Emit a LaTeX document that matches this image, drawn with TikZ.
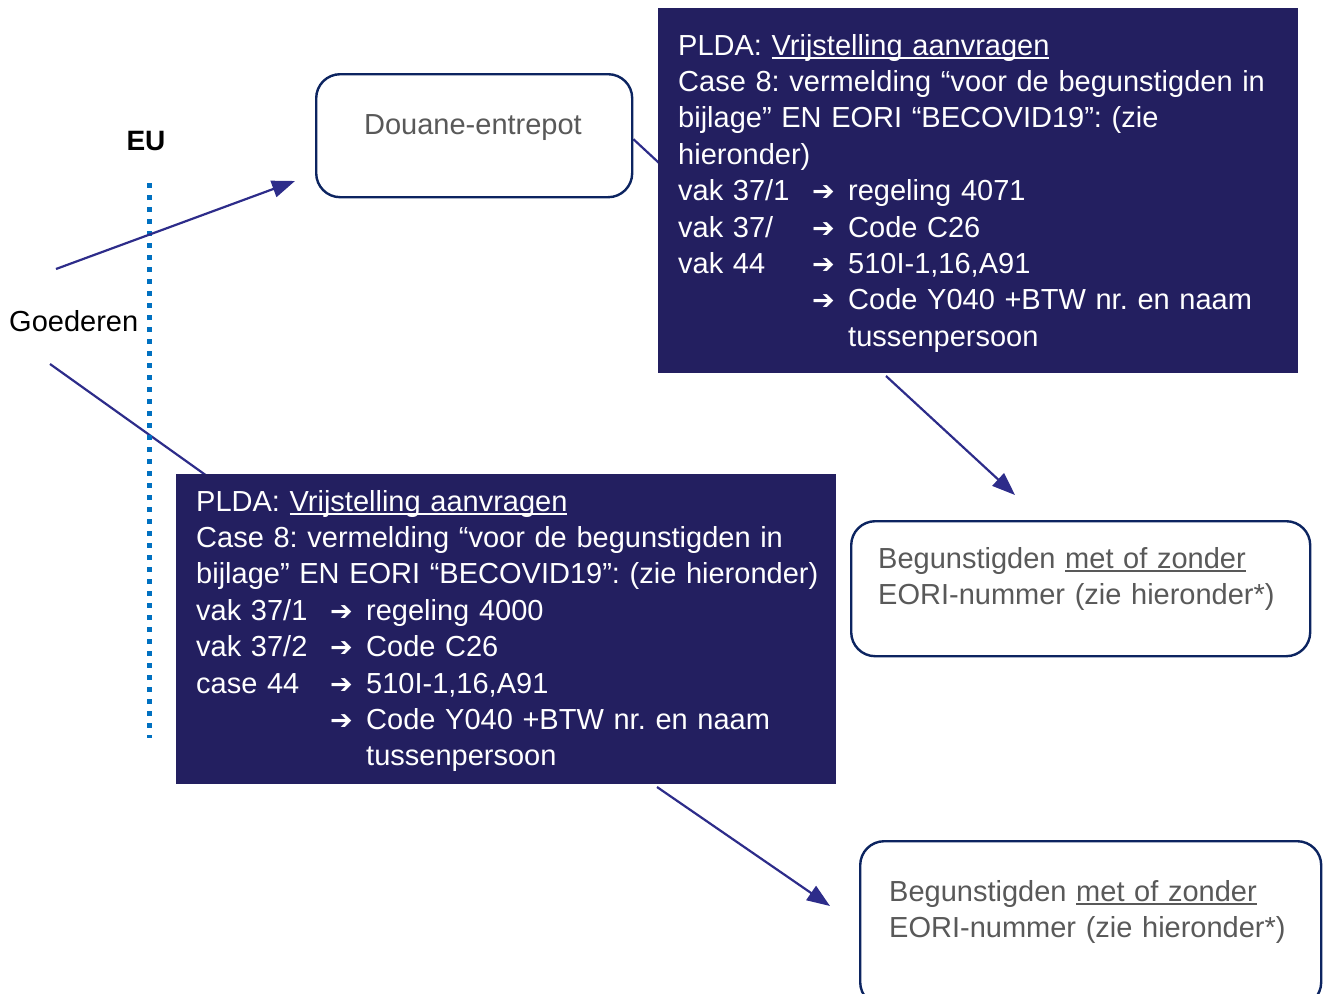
\documentclass[tikz,border=0pt]{standalone}
\usepackage{fontspec}
\setmainfont{Liberation Sans}
\newfontfamily\symfamily{DejaVu Sans}
\usetikzlibrary{arrows.meta,backgrounds}
\frenchspacing
\definecolor{plnavy}{RGB}{35,31,96}
\definecolor{arrowc}{RGB}{45,44,138}
\definecolor{rboxc}{RGB}{12,36,96}
\definecolor{graytxt}{RGB}{89,89,89}
\definecolor{dotblue}{RGB}{0,112,192}
\newcommand\myul[1]{\leavevmode\setbox0\hbox{#1}\rlap{\rule[-3.6pt]{\wd0}{1.8pt}}\box0}
\newcommand\myarr{{\symfamily\fontsize{27}{27}\selectfont ➔}}
\newcommand\plrow[3]{\makebox[134pt][l]{#1}\makebox[36pt][l]{#2}#3}
\tikzset{
  plbox/.style={fill=plnavy, draw=none, anchor=north west, inner sep=0pt},
  pltext/.style={text=white, anchor=base west, inner sep=0pt, text width=660pt, align=left,
    font=\fontsize{29}{36.4}\selectfont},
  rbox/.style={draw=rboxc, line width=2.4pt, rounded corners=24pt, fill=white, anchor=north west, inner sep=0pt},
  graytext/.style={text=graytxt, inner sep=0pt, font=\fontsize{29}{36.6}\selectfont},
  conn/.style={draw=arrowc, line width=2.2pt},
  arr/.style={conn, -{Triangle[length=23pt,width=17pt]}},
  eudots/.style={draw=dotblue, line width=5pt, dash pattern=on 5pt off 7pt},
}
\begin{document}
\begin{tikzpicture}[x=1pt,y=-1pt]
\useasboundingbox (0,0) rectangle (1327,993);
\clip (0,0) rectangle (1327,993);

% labels
\node[anchor=base, inner sep=0pt, font=\bfseries\fontsize{28}{28}\selectfont] (eu) at (146,150) {EU};
\node[anchor=base west, inner sep=0pt, font=\fontsize{29}{30}\selectfont] (goed) at (9,331) {Goederen};

% EU border
\coordinate (eutop) at (149,183);
\coordinate (eubot) at (149,738);
\draw[eudots] (eutop) -- (eubot);

% boxes
\node[rbox, minimum width=316pt, minimum height=123pt] (dou) at (315,73) {};
\node[graytext, anchor=base] (dout) at (473,134) {Douane-entrepot};

\node[plbox, minimum width=640pt, minimum height=365pt] (p1) at (658,8) {};
\node[pltext] (p1t) at (678,55) {PLDA: \myul{Vrijstelling aanvragen}\\
Case 8: vermelding “voor de begunstigden in\\
bijlage” EN EORI “BECOVID19”: (zie\\
hieronder)\\
\plrow{vak 37/1}{\myarr}{regeling 4071}\\
\plrow{vak 37/}{\myarr}{Code C26}\\
\plrow{vak 44}{\myarr}{510I-1,16,A91}\\
\plrow{}{\myarr}{Code Y040 +BTW nr. en naam}\\
\plrow{}{}{tussenpersoon}};

\node[plbox, minimum width=660pt, minimum height=310pt] (p2) at (176,474) {};
\node[pltext] (p2t) at (196,511) {PLDA: \myul{Vrijstelling aanvragen}\\
Case 8: vermelding “voor de begunstigden in\\
bijlage” EN EORI “BECOVID19”: (zie hieronder)\\
\plrow{vak 37/1}{\myarr}{regeling 4000}\\
\plrow{vak 37/2}{\myarr}{Code C26}\\
\plrow{case 44}{\myarr}{510I-1,16,A91}\\
\plrow{}{\myarr}{Code Y040 +BTW nr. en naam}\\
\plrow{}{}{tussenpersoon}};

\node[rbox, minimum width=459pt, minimum height=135pt] (b1) at (850,520) {};
\node[graytext, anchor=base west, text width=420pt, align=left] (b1t) at (878,568) {Begunstigden \myul{met of zonder}\\EORI-nummer (zie hieronder*)};

\node[rbox, minimum width=461pt, minimum height=165pt] (b2) at (859,840) {};
\node[graytext, anchor=base west, text width=420pt, align=left] (b2t) at (889,901) {Begunstigden \myul{met of zonder}\\EORI-nummer (zie hieronder*)};

% connectors
\coordinate (g1s) at (56,269);
\coordinate (g1e) at (295,181);
\coordinate (g2s) at (50,364);
\coordinate (g2e) at (207,476);
\coordinate (dp1) at (672,175);
\coordinate (p1s) at (886,376);
\coordinate (p1e) at (1015,495);
\coordinate (p2s) at (657,787);
\coordinate (p2e) at (830,906);
\begin{scope}[on background layer]
\draw[conn] ([yshift=-3.5pt]dou.east) -- (dp1);
\draw[conn] (g2s) -- (g2e);
\end{scope}
\draw[arr] (g1s) -- (g1e);
\draw[arr] (p1s) -- (p1e);
\draw[arr] (p2s) -- (p2e);
\end{tikzpicture}
\end{document}
